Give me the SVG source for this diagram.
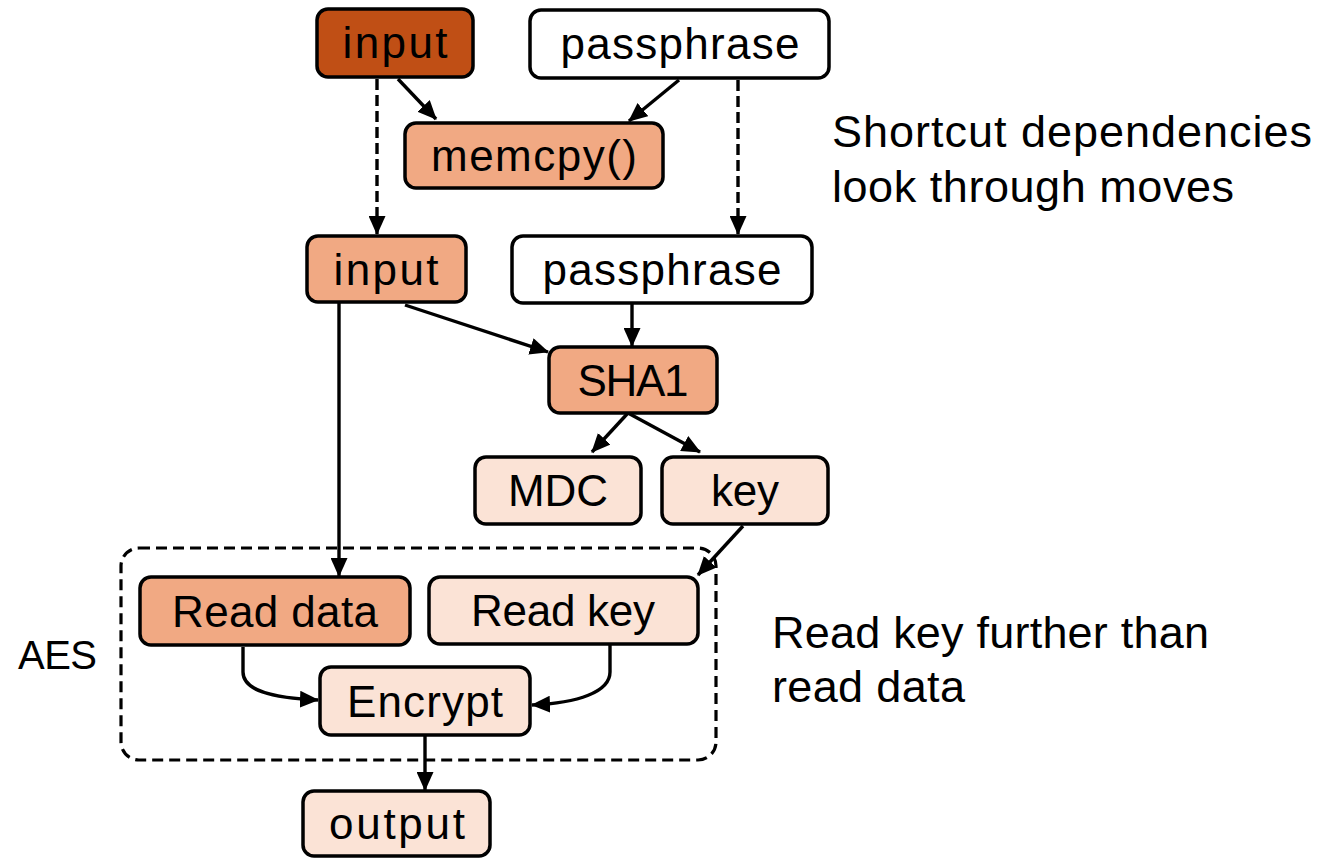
<svg xmlns="http://www.w3.org/2000/svg" width="1342" height="858" viewBox="0 0 1342 858">
<style>
.box{stroke:#000;stroke-width:3.5}
.dark{fill:#C04F15}
.mid{fill:#F1A983}
.light{fill:#FBE3D6}
.white{fill:#FFFFFF}
.lbl{font-family:"Liberation Sans",Arial,sans-serif;font-size:44px;fill:#000;text-anchor:middle}
.note{font-family:"Liberation Sans",Arial,sans-serif;font-size:45px;fill:#000}
.edge{stroke:#000;stroke-width:3.4;fill:none}
.dash{stroke-dasharray:11,5}
</style>
<defs>
<marker id="arr" markerUnits="userSpaceOnUse" markerWidth="19" markerHeight="17" refX="18" refY="8.5" orient="auto">
<path d="M0,0 L19,8.5 L0,17 Z" fill="#000"/>
</marker>
</defs>
<rect x="0" y="0" width="1342" height="858" fill="#FFFFFF"/>

<g id="aes-group">
<rect x="121" y="548" width="595" height="212" rx="18" fill="none" stroke="#000" stroke-width="3.2" stroke-dasharray="11,6"/>
<text class="note" x="18" y="669" textLength="79" style="font-size:40px">AES</text>
</g>

<g id="connectors">
<line class="edge" x1="398" y1="79" x2="436" y2="119" marker-end="url(#arr)"/>
<line class="edge" x1="679" y1="80" x2="629" y2="121" marker-end="url(#arr)"/>
<line class="edge dash" x1="377" y1="79" x2="377" y2="234" marker-end="url(#arr)"/>
<line class="edge dash" x1="738" y1="80" x2="738" y2="234" marker-end="url(#arr)"/>
<line class="edge" x1="405" y1="305" x2="548" y2="352" marker-end="url(#arr)"/>
<line class="edge" x1="632" y1="303" x2="632" y2="346" marker-end="url(#arr)"/>
<line class="edge" x1="339" y1="302" x2="339" y2="576" marker-end="url(#arr)"/>
<line class="edge" x1="628" y1="413" x2="592" y2="452" marker-end="url(#arr)"/>
<line class="edge" x1="628" y1="413" x2="700" y2="452" marker-end="url(#arr)"/>
<line class="edge" x1="743" y1="526" x2="698" y2="575" marker-end="url(#arr)"/>
<path class="edge" d="M243,647 V672 C243,690 270,698 318,700" marker-end="url(#arr)"/>
<path class="edge" d="M610,645 V672 C610,692 578,703 532,705" marker-end="url(#arr)"/>
<line class="edge" x1="425" y1="735" x2="425" y2="790" marker-end="url(#arr)"/>
</g>

<g id="input-top">
<rect class="box dark" x="317" y="9" width="156" height="68" rx="11"/>
<text class="lbl" x="395" y="58" textLength="105">input</text>
</g>
<g id="passphrase-top">
<rect class="box white" x="530" y="10" width="299" height="68" rx="11"/>
<text class="lbl" x="680" y="59" textLength="239">passphrase</text>
</g>
<g id="memcpy">
<rect class="box mid" x="405" y="123" width="258" height="65" rx="11"/>
<text class="lbl" x="534" y="171" textLength="206">memcpy()</text>
</g>
<g id="input-mid">
<rect class="box mid" x="307" y="236" width="159" height="66" rx="11"/>
<text class="lbl" x="386" y="285" textLength="105">input</text>
</g>
<g id="passphrase-mid">
<rect class="box white" x="512" y="236" width="300" height="67" rx="11"/>
<text class="lbl" x="662" y="285" textLength="239">passphrase</text>
</g>
<g id="sha1">
<rect class="box mid" x="549" y="347" width="168" height="66" rx="11"/>
<text class="lbl" x="633" y="396" textLength="111">SHA1</text>
</g>
<g id="mdc">
<rect class="box light" x="475" y="457" width="166" height="67" rx="11"/>
<text class="lbl" x="558" y="506" textLength="100">MDC</text>
</g>
<g id="key">
<rect class="box light" x="662" y="457" width="166" height="67" rx="11"/>
<text class="lbl" x="745" y="506" textLength="68">key</text>
</g>
<g id="read-data">
<rect class="box mid" x="140" y="577" width="270" height="68" rx="11"/>
<text class="lbl" x="275" y="627" textLength="206">Read data</text>
</g>
<g id="read-key">
<rect class="box light" x="429" y="577" width="269" height="67" rx="11"/>
<text class="lbl" x="563" y="626" textLength="184">Read key</text>
</g>
<g id="encrypt">
<rect class="box light" x="320" y="667" width="210" height="68" rx="11"/>
<text class="lbl" x="425" y="717" textLength="156">Encrypt</text>
</g>
<g id="output">
<rect class="box light" x="303" y="791" width="187" height="65" rx="11"/>
<text class="lbl" x="397" y="839" textLength="136">output</text>
</g>

<g id="notes">
<text class="note" x="832" y="147" textLength="480">Shortcut dependencies</text>
<text class="note" x="832" y="202" textLength="402">look through moves</text>
<text class="note" x="772" y="648" textLength="437">Read key further than</text>
<text class="note" x="772" y="702" textLength="193">read data</text>
</g>
</svg>
